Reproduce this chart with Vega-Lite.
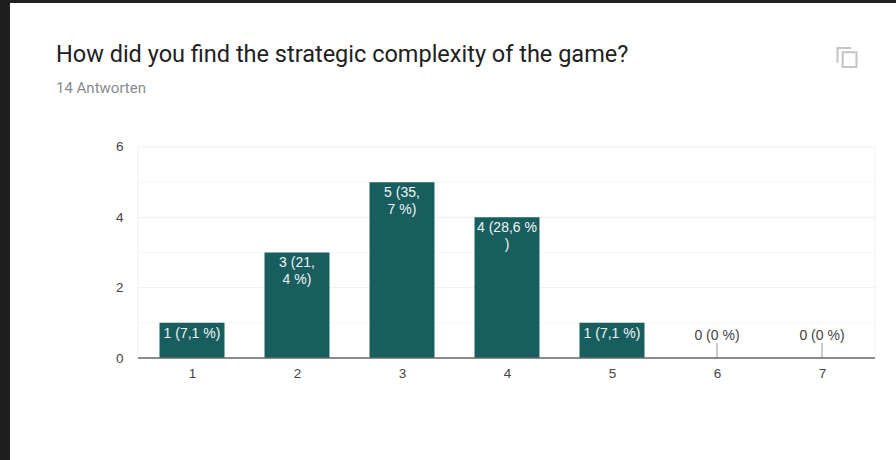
{
  "$schema": "https://vega.github.io/schema/vega-lite/v6.json",
  "width": 886,
  "height": 457,
  "autosize": {"type": "none"},
  "padding": {"left": 10, "top": 3, "right": 0, "bottom": 0},
  "background": "#1f1f1f",
  "view": {"fill": "#ffffff", "stroke": null},
  "title": {
    "text": "How did you find the strategic complexity of the game?",
    "subtitle": "14 Antworten",
    "anchor": "start",
    "frame": "group",
    "orient": "top",
    "offset": -93,
    "dx": 46,
    "font": "Roboto",
    "fontSize": 23.5,
    "fontWeight": "normal",
    "color": "#212121",
    "subtitleFont": "Roboto",
    "subtitleFontSize": 15,
    "subtitleColor": "#8a8a8a",
    "subtitlePadding": 15
  },
  "datasets": {
    "answers": [
      {"rating": 1, "count": 1, "label": "1 (7,1 %)"},
      {"rating": 2, "count": 3, "label": "3 (21,\n4 %)"},
      {"rating": 3, "count": 5, "label": "5 (35,\n7 %)"},
      {"rating": 4, "count": 4, "label": "4 (28,6 %\n)"},
      {"rating": 5, "count": 1, "label": "1 (7,1 %)"},
      {"rating": 6, "count": 0, "label": "0 (0 %)"},
      {"rating": 7, "count": 0, "label": "0 (0 %)"}
    ],
    "majorGrid": [{"level": 2}, {"level": 4}, {"level": 6}],
    "minorGrid": [{"level": 1}, {"level": 3}, {"level": 5}]
  },
  "data": {"name": "answers"},
  "layer": [
    {
      "data": {"name": "minorGrid"},
      "mark": {"type": "rule", "color": "#f6f6f6", "strokeWidth": 1},
      "encoding": {
        "x": {
          "datum": 0.486,
          "type": "quantitative",
          "scale": {"domain": [-0.7333, 7.7048], "nice": false, "zero": false, "padding": 0},
          "axis": {
            "values": [1, 2, 3, 4, 5, 6, 7],
            "title": null,
            "grid": false,
            "ticks": false,
            "domain": false,
            "offset": -102,
            "labelPadding": 8,
            "labelFont": "Liberation Sans",
            "labelFontSize": 13.5,
            "labelColor": "#444444",
            "labelOverlap": false,
            "format": "d"
          }
        },
        "x2": {"datum": 7.505},
        "y": {
          "field": "level",
          "type": "quantitative",
          "scale": {"domain": [-2.9, 10.094], "nice": false, "zero": false, "padding": 0},
          "axis": {
            "values": [0, 2, 4, 6],
            "title": null,
            "grid": false,
            "ticks": false,
            "domain": false,
            "offset": -128,
            "labelPadding": 15,
            "labelFont": "Liberation Sans",
            "labelFontSize": 13.5,
            "labelColor": "#444444",
            "labelOverlap": false,
            "format": "d"
          }
        }
      }
    },
    {
      "data": {"name": "majorGrid"},
      "mark": {"type": "rule", "color": "#eeeeee", "strokeWidth": 1},
      "encoding": {
        "x": {"datum": 0.486},
        "x2": {"datum": 7.505},
        "y": {"field": "level", "type": "quantitative"}
      }
    },
    {
      "data": {"values": [{"edge": 0.486}, {"edge": 7.505}]},
      "mark": {"type": "rule", "color": "#f0f0f0", "strokeWidth": 1},
      "encoding": {
        "x": {"field": "edge", "type": "quantitative"},
        "y": {"datum": 0},
        "y2": {"datum": 6}
      }
    },
    {
      "transform": [{"filter": "datum.count > 0"}],
      "mark": {"type": "bar", "orient": "vertical", "size": 65, "color": "#195e5f"},
      "encoding": {
        "x": {"field": "rating", "type": "quantitative"},
        "y": {"field": "count", "type": "quantitative", "stack": null}
      }
    },
    {
      "transform": [{"filter": "datum.count === 0"}],
      "mark": {"type": "rule", "color": "#999999", "strokeWidth": 1},
      "encoding": {
        "x": {"field": "rating", "type": "quantitative"},
        "y": {"datum": 0},
        "y2": {"datum": 0.43}
      }
    },
    {
      "data": {"values": [{"base": 0}]},
      "mark": {"type": "rule", "color": "#666666", "strokeWidth": 1.5},
      "encoding": {
        "x": {"datum": 0.486},
        "x2": {"datum": 7.505},
        "y": {"field": "base", "type": "quantitative"}
      }
    },
    {
      "transform": [{"filter": "datum.count > 0"}],
      "mark": {
        "type": "text",
        "baseline": "top",
        "align": "center",
        "dy": 4,
        "lineBreak": "\n",
        "lineHeight": 17,
        "font": "Liberation Sans",
        "fontSize": 14,
        "color": "#eef5f5"
      },
      "encoding": {
        "x": {"field": "rating", "type": "quantitative"},
        "y": {"field": "count", "type": "quantitative"},
        "text": {"field": "label"}
      }
    },
    {
      "transform": [{"filter": "datum.count === 0"}],
      "mark": {
        "type": "text",
        "baseline": "middle",
        "align": "center",
        "dy": -22,
        "font": "Liberation Sans",
        "fontSize": 14,
        "color": "#444444"
      },
      "encoding": {
        "x": {"field": "rating", "type": "quantitative"},
        "y": {"field": "count", "type": "quantitative"},
        "text": {"field": "label"}
      }
    },
    {
      "data": {"values": [{"icon": "copy"}]},
      "mark": {
        "type": "point",
        "shape": "M-1,0.55 V-1 H0.45 M-0.45,-0.55 H1 V1 H-0.45 Z",
        "size": 361,
        "filled": false,
        "color": "#c4c4c4",
        "strokeWidth": 2,
        "opacity": 1
      },
      "encoding": {
        "x": {"datum": 7.238},
        "y": {"datum": 8.544}
      }
    }
  ]
}
